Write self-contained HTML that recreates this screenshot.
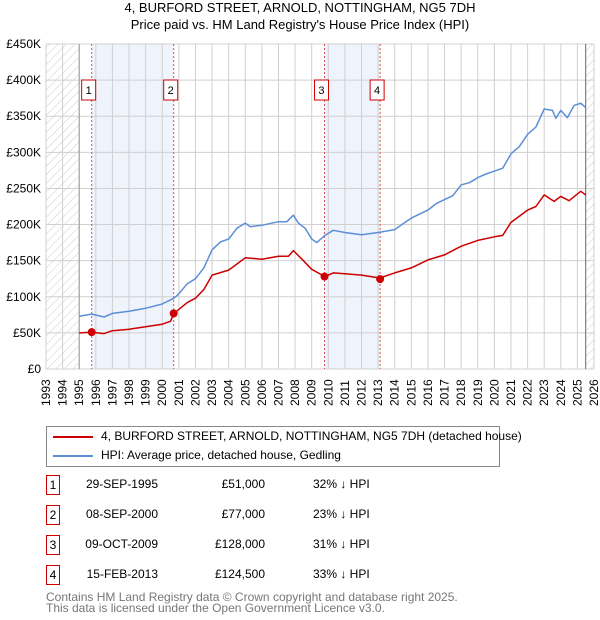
<!DOCTYPE html>
<html><head><meta charset="utf-8"><style>
body{margin:0;background:#fff;font-family:"Liberation Sans","DejaVu Sans",sans-serif;}
#wrap{position:relative;width:600px;height:620px;overflow:hidden}
.t{position:absolute;font-size:12px;color:#000;white-space:nowrap}
</style></head><body><div id="wrap">
<div class="t" style="left:0;width:600px;text-align:center;top:0;font-size:13px">4, BURFORD STREET, ARNOLD, NOTTINGHAM, NG5 7DH</div>
<div class="t" style="left:0;width:600px;text-align:center;top:17px;font-size:13px">Price paid vs. HM Land Registry's House Price Index (HPI)</div>
<svg id="chart" width="600" height="420" style="position:absolute;left:0;top:0" font-family="Liberation Sans, DejaVu Sans, sans-serif"></svg>
<div style="position:absolute;left:46px;top:426px;width:454px;height:41px;border:1px solid #888;box-sizing:border-box">
<div><div style="position:absolute;left:6px;top:9px;width:40px;height:2px;background:#cc0000"></div><div class="t" style="left:54px;top:2px">4, BURFORD STREET, ARNOLD, NOTTINGHAM, NG5 7DH (detached house)</div></div>
<div><div style="position:absolute;left:6px;top:28px;width:40px;height:2px;background:#5b8fd6"></div><div class="t" style="left:54px;top:21px">HPI: Average price, detached house, Gedling</div></div>
</div>
<div id="tbl"></div>
<div class="t" style="left:46px;top:592px;color:#777;line-height:11px">Contains HM Land Registry data © Crown copyright and database right 2025.<br>This data is licensed under the Open Government Licence v3.0.</div>
</div>
<script>
const hpiYears=[1995,1995.75,1996.5,1997,1998,1999,2000,2000.7,2001,2001.5,2002,2002.5,2003,2003.5,2004,2004.5,2005,2005.3,2006,2007,2007.5,2007.9,2008.2,2008.6,2009,2009.3,2009.8,2010.3,2011,2012,2013,2014,2014.5,2015,2016,2016.5,2017.5,2018,2018.5,2019,2019.5,2020,2020.5,2021,2021.5,2022,2022.5,2023,2023.5,2023.7,2024,2024.4,2024.8,2025.2,2025.5];
const hpiValues=[73,76,72,77,80,84,90,98,104,118,125,140,165,176,180,195,202,197,199,204,204,213,202,195,180,175,185,192,189,186,189,193,201,209,220,229,240,255,258,265,270,274,278,298,308,325,335,360,358,347,358,348,365,368,362];
const propYears=[1995,1995.75,1996.5,1997,1998,2000,2000.5,2000.7,2001.5,2002,2002.5,2003,2004,2005,2006,2007,2007.6,2007.9,2008.5,2009,2009.8,2010.3,2011,2012,2013.1,2014,2015,2016,2017,2018,2019,2020,2020.5,2021,2022,2022.5,2023,2023.6,2024,2024.5,2025.2,2025.5];
const propValues=[50,51,49,53,55,62,66,77,92,98,110,130,137,154,152,156,156,164,150,138,128,133,132,130,126,133,140,151,158,170,178,183,185,203,220,225,241,232,239,233,246,241];
const saleDates=[1995.75,2000.69,2009.77,2013.12];
const salePrices=[51,77,128,124.5];
const saleLabels=["1","2","3","4"];
const saleDateText=["29-SEP-1995","08-SEP-2000","09-OCT-2009","15-FEB-2013"];
const salePriceText=["£51,000","£77,000","£128,000","£124,500"];
const saleHpiText=["32% ↓ HPI","23% ↓ HPI","31% ↓ HPI","33% ↓ HPI"];
const yTicks=[0,50,100,150,200,250,300,350,400,450];
const yTickLabels=["£0","£50K","£100K","£150K","£200K","£250K","£300K","£350K","£400K","£450K"];
const X0=46,X1=594,Y0=369,Y1=44,Ymin=1993,Ymax=2026;
const sx=y=>X0+(y-Ymin)/(Ymax-Ymin)*(X1-X0);
const sy=v=>Y0-v/450*(Y0-Y1);
const NS="http://www.w3.org/2000/svg",svg=document.getElementById('chart');
function mk(tag,at,parent){const e=document.createElementNS(NS,tag);for(const k in at)e.setAttribute(k,at[k]);(parent||svg).appendChild(e);return e;}
const defs=mk('defs',{});
const pat=mk('pattern',{id:'hatch',width:6,height:6,patternUnits:'userSpaceOnUse',patternTransform:'rotate(45)'},defs);
mk('line',{x1:0,y1:0,x2:0,y2:6,stroke:'#ccc','stroke-width':1},pat);
let r;
r=mk('rect',{x:sx(1993),y:Y1,width:sx(1995)-sx(1993),height:Y0-Y1,fill:'url(#hatch)'});

r=mk('rect',{x:sx(2025.5),y:Y1,width:X1-sx(2025.5),height:Y0-Y1,fill:'url(#hatch)'});

[[0,1],[2,3]].forEach((p,i)=>{const b=mk('rect',{x:sx(saleDates[p[0]]),y:Y1,width:sx(saleDates[p[1]])-sx(saleDates[p[0]]),height:Y0-Y1,fill:'#eef3fc'});
});
for(let y=Ymin;y<=Ymax;y++){const l=mk('line',{x1:sx(y),x2:sx(y),y1:Y1,y2:Y0,stroke:'#d0d0d0','stroke-width':1});

const t=mk('text',{x:0,y:0,transform:`translate(${sx(y)+4},406) rotate(-90)`,'font-size':12,fill:'#000'});t.textContent=y;
}
yTicks.forEach((v,i)=>{const l=mk('line',{x1:X0,x2:X1,y1:sy(v),y2:sy(v),stroke:'#d0d0d0','stroke-width':1});

const t=mk('text',{x:X0-5,y:sy(v)+4,'text-anchor':'end','font-size':12,fill:'#000'});t.textContent=yTickLabels[i];
});
mk('line',{x1:sx(1995),x2:sx(1995),y1:Y1,y2:Y0,stroke:'#999'});
mk('line',{x1:sx(2025.5),x2:sx(2025.5),y1:Y1,y2:Y0,stroke:'#666'});
saleDates.forEach((d,i)=>{const l=mk('line',{x1:sx(d),x2:sx(d),y1:Y1,y2:Y0,stroke:'#e05050','stroke-dasharray':'2,2','stroke-width':1});

const g=mk('g',{});
mk('rect',{x:sx(d)-10,y:80,width:14,height:20,fill:'#fff',stroke:'#cc0000'},g);
const t=mk('text',{x:sx(d)-3,y:94,'text-anchor':'middle','font-size':11},g);t.textContent=saleLabels[i];});
function path(xs,vs,col,name){const d=xs.map((x,i)=>(i?'L':'M')+sx(x).toFixed(1)+','+sy(vs[i]).toFixed(1)).join('');
const p=mk('path',{d,fill:'none',stroke:col,'stroke-width':1.5,'stroke-linejoin':'round'});
}
path(hpiYears,hpiValues,'#5b8fd6','hpi-line');
path(propYears,propValues,'#cc0000','property-line');
saleDates.forEach((d,i)=>{const c=mk('circle',{cx:sx(d),cy:sy(salePrices[i]),r:4,fill:'#cc0000'});
});
const tbl=document.getElementById('tbl');
saleDates.forEach((d,i)=>{const top=475+i*30;const row=document.createElement('div');


row.innerHTML=`<div style="position:absolute;left:46px;top:${top}px;width:14px;height:20px;border:1px solid #cc0000;box-sizing:border-box;font-size:12px;text-align:center;line-height:18px">${saleLabels[i]}</div>
<div class="t" style="left:60px;width:98px;text-align:right;top:${top+2}px">${saleDateText[i]}</div>
<div class="t" style="left:165px;width:100px;text-align:right;top:${top+2}px">${salePriceText[i]}</div>
<div class="t" style="left:313px;top:${top+2}px">${saleHpiText[i]}</div>`;
tbl.appendChild(row);});
</script></body></html>
